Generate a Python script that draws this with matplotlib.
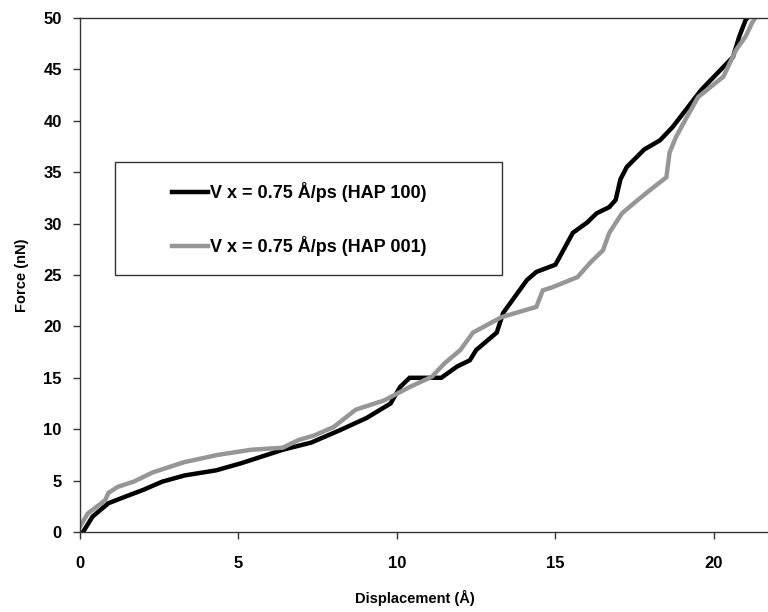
import matplotlib
matplotlib.use("Agg")
import matplotlib.pyplot as plt
from matplotlib.patches import Rectangle

plt.rcParams['font.family'] = ['Liberation Sans', 'DejaVu Sans']
plt.rcParams['font.weight'] = 'bold'

# HAP 100 (black)
x_100 = [0.1, 0.4, 0.9, 1.4, 2.0, 2.6, 3.3, 4.3, 5.1, 5.7, 6.4, 7.3, 8.2, 9.05,
         9.8, 10.1, 10.4, 11.4, 11.9, 12.3, 12.5, 13.15, 13.35, 14.1, 14.4, 15.0,
         15.55, 16.0, 16.3, 16.7, 16.9, 17.05, 17.25, 17.8, 18.3, 18.7, 19.1,
         19.6, 20.1, 20.6, 20.8, 21.0, 21.2]
y_100 = [0.0, 1.5, 2.8, 3.4, 4.1, 4.9, 5.5, 6.0, 6.7, 7.3, 8.0, 8.7, 9.9, 11.1,
         12.5, 14.1, 15.0, 15.0, 16.1, 16.7, 17.7, 19.4, 21.3, 24.5, 25.3, 26.0,
         29.1, 30.1, 31.0, 31.6, 32.3, 34.3, 35.5, 37.2, 38.1, 39.4, 41.0,
         43.0, 44.6, 46.2, 48.2, 49.8, 50.5]

# HAP 001 (grey)
x_001 = [0.0, 0.25, 0.8, 0.9, 1.2, 1.7, 2.3, 3.3, 4.35, 5.4, 6.4, 6.9, 7.4, 8.0,
         8.7, 9.6, 10.4, 11.1, 11.5, 12.0, 12.4, 13.3, 14.4, 14.6, 14.9, 15.7,
         16.1, 16.5, 16.7, 17.1, 17.6, 18.0, 18.5, 18.6, 18.8, 19.1, 19.5, 19.9,
         20.3, 20.7, 21.0, 21.2, 21.3]
y_001 = [0.5, 1.8, 3.1, 3.8, 4.4, 4.9, 5.8, 6.8, 7.5, 8.0, 8.2, 8.95, 9.4, 10.2,
         11.9, 12.8, 14.1, 15.1, 16.4, 17.7, 19.4, 20.9, 21.9, 23.5, 23.8, 24.8,
         26.2, 27.4, 29.1, 31.0, 32.3, 33.3, 34.5, 36.9, 38.4, 40.1, 42.3, 43.3,
         44.3, 46.9, 48.2, 49.5, 50.0]

labels = ['V x = 0.75 Å/ps (HAP 100)', 'V x = 0.75 Å/ps (HAP 001)']

fig = plt.figure(figsize=(7.68, 6.12), dpi=100)
# axes run past the right edge of the picture, as in the original
ax = fig.add_axes([0.104, 0.1307, 1.032, 0.840])

l1, = ax.plot(x_100, y_100, color='black', lw=3.2, solid_joinstyle='miter')
l2, = ax.plot(x_001, y_001, color='#969696', lw=3.2, solid_joinstyle='miter')

ax.set_xlim(0, 25)
ax.set_ylim(0, 50)
ax.set_xticks([0, 5, 10, 15, 20])
ax.set_yticks(range(0, 51, 5))
ax.tick_params(direction='out', length=5, width=1, labelsize=12, color='#333333')
ax.tick_params(axis='x', pad=12)
ax.tick_params(axis='y', pad=8)
for s in ax.spines.values():
    s.set_color('#333333')
    s.set_linewidth(1)

ax.set_xlabel('Displacement (Å)', fontsize=10.5, fontweight='bold')
ax.set_ylabel('Force (nN)', fontsize=10.5, fontweight='bold', labelpad=10)
ax.xaxis.set_label_coords((415 - 80) / (768 * 1.032), -0.112)

fig.patches.append(Rectangle((115 / 768, 1 - 275 / 612), 387 / 768, 113 / 612,
                             transform=fig.transFigure, fill=False,
                             edgecolor='#333333', lw=1))
fig.legend([l1, l2], labels, loc='center left',
           bbox_to_anchor=(172 / 768, 1 - 219 / 612), frameon=False,
           handlelength=2.0, handletextpad=0.1,
           labelspacing=1.9, borderpad=0, borderaxespad=0,
           prop={'weight': 'bold', 'size': 13})

fig.savefig('out.png', dpi=100)
